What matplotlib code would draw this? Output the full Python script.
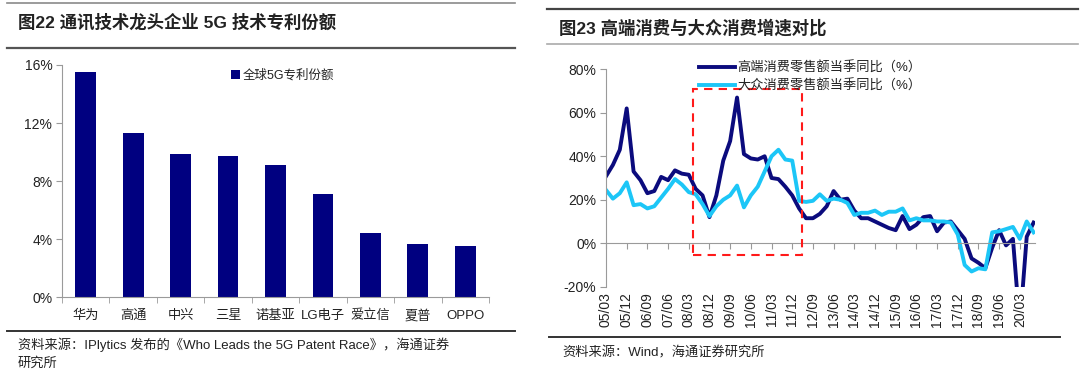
import matplotlib.pyplot as plt
from matplotlib.patches import Rectangle
from matplotlib.lines import Line2D
import numpy as np

plt.rcParams["font.family"] = ["Liberation Sans", "Noto Sans CJK SC", "DejaVu Sans"]
plt.rcParams["text.color"] = "#222222"
plt.rcParams["xtick.color"] = "#222222"
plt.rcParams["ytick.color"] = "#222222"

# Left chart data: global 5G patent share (%)
companies = ["华为", "高通", "中兴", "三星", "诺基亚", "LG电子", "爱立信", "夏普", "OPPO"]
patent_share = [15.5, 11.3, 9.9, 9.7, 9.1, 7.1, 4.4, 3.7, 3.5]

# Right chart data: quarterly yoy growth (%), 05/03 .. 20/09
quarters = [f"{y:02d}/{m:02d}" for y in range(5, 21) for m in (3, 6, 9, 12)][:63]
high_end = [30.8, 36, 43, 62, 33, 29, 23, 24, 30.5, 29, 33.5, 32, 31.5, 25, 22, 12,
            22, 38, 47, 67, 41, 39, 38.5, 40, 30, 29.5, 26, 22, 16, 11.5, 11.5, 13.5,
            17, 24, 20, 20.5, 15, 11.5, 11.5, 10, 8.5, 7, 6, 12.5, 6.5, 8.5, 12, 12.5,
            5.5, 9.5, 10, 6, 2, -7, -9, -11.5, -2, 6, -1, 2, -38, 3, 9.5]
mass = [24.5, 20.5, 23, 28, 17.5, 18, 16, 17, 21, 25, 29.5, 27, 23.5, 22.5, 18, 12.5,
        17, 20, 22, 26.5, 16.5, 22, 26, 33, 40, 43, 38.5, 38, 19.5, 19, 19.5, 22.5,
        19.5, 20.5, 20, 18.5, 13, 14, 14, 15, 13, 14.5, 14.5, 16, 10.5, 11.5, 10.5, 10.5,
        10, 10, 9.5, 4, -10, -13, -11.5, -12, 5, 5.5, 6.5, 7.5, 2, 10, 5]

navy = "#0b0b7d"
cyan = "#1cc6f7"
gray = "#9a9a9a"

fig = plt.figure(figsize=(10.8, 3.75), dpi=100)

# Title rules and titles
def hline(x0, x1, y, color, lw):
    fig.add_artist(Line2D([x0 / 1080, x1 / 1080], [1 - y / 375] * 2, color=color, lw=lw))

hline(7, 515, 3, "#8a8a8a", 1.2)
hline(7, 515, 48, "#555555", 1.6)
hline(547, 1078, 9, "#444444", 1.6)
hline(547, 1078, 44, "#aaaaaa", 1.2)
hline(7, 515, 331, "#333333", 1.4)
hline(549, 1060, 337, "#333333", 1.4)

fig.text(18 / 1080, 1 - 22 / 375, "图22 通讯技术龙头企业 5G 技术专利份额", fontsize=12.5,
         fontweight="bold", va="center", ha="left")
fig.text(559 / 1080, 1 - 28 / 375, "图23 高端消费与大众消费增速对比", fontsize=12.5,
         fontweight="bold", va="center", ha="left")
fig.text(18 / 1080, 1 - 345 / 375,
         "资料来源：IPlytics 发布的《Who Leads the 5G Patent Race》，海通证券",
         fontsize=9.5, va="center", ha="left")
fig.text(18 / 1080, 1 - 363 / 375, "研究所", fontsize=9.5, va="center", ha="left")
fig.text(562 / 1080, 1 - 353 / 375, "资料来源：Wind，海通证券研究所", fontsize=9.5,
         va="center", ha="left")

# ---- Left: bar chart ----
ax1 = fig.add_axes([62 / 1080, 1 - 297.3 / 375, (489 - 62) / 1080, (297.3 - 65) / 375])
xpos = np.arange(len(companies)) + 0.5
ax1.bar(xpos, patent_share, width=0.44, color="#000080", label="全球5G专利份额")
ax1.set_xlim(0, len(companies))
ax1.set_ylim(0, 16)
ax1.set_yticks([0, 4, 8, 12, 16], ["0%", "4%", "8%", "12%", "16%"])
ax1.set_xticks(xpos, companies)
ax1.set_xticks(np.arange(len(companies) + 1), minor=True)
ax1.tick_params(axis="x", which="major", length=0, pad=9, labelsize=9.5)
ax1.tick_params(axis="x", which="minor", length=4, color=gray, direction="out")
ax1.tick_params(axis="y", length=4, color=gray, labelsize=10, pad=3)
for s in ["top", "right"]:
    ax1.spines[s].set_visible(False)
for s in ["left", "bottom"]:
    ax1.spines[s].set_color(gray)
ax1.legend(loc="upper left", bbox_to_anchor=(0.37, 1.03), frameon=False, fontsize=9,
           handlelength=0.7, handleheight=0.7, handletextpad=0.2)

# ---- Right: line chart ----
ax2 = fig.add_axes([606 / 1080, 1 - 286.7 / 375, (1035 - 606) / 1080, (286.7 - 69.3) / 375])
xi = np.arange(len(quarters))
ax2.plot(xi, high_end, color=navy, lw=2.8, solid_joinstyle="round",
         label="高端消费零售额当季同比（%）")
ax2.plot(xi, mass, color=cyan, lw=2.8, solid_joinstyle="round",
         label="大众消费零售额当季同比（%）")
ax2.set_xlim(0, 62.2)
ax2.set_ylim(-20, 80)
ax2.set_yticks([-20, 0, 20, 40, 60, 80], ["-20%", "0%", "20%", "40%", "60%", "80%"])
ax2.tick_params(axis="y", length=4, color=gray, labelsize=10, pad=3)
for s in ["top", "right"]:
    ax2.spines[s].set_visible(False)
ax2.spines["left"].set_color(gray)
ax2.spines["bottom"].set_position(("data", 0))
ax2.spines["bottom"].set_color(gray)
ax2.set_xticks(xi[::3])
ax2.tick_params(axis="x", length=4, color=gray, direction="out", labelbottom=False)

sec = ax2.secondary_xaxis("bottom")
sec.set_xticks(xi[::3], [quarters[i] for i in xi[::3]], rotation=90)
sec.tick_params(axis="x", length=0, labelsize=10, pad=4)
sec.spines["bottom"].set_visible(False)

# highlighted period
rect = Rectangle((12.65, -5.6), 28.45 - 12.65, 70.9 + 5.6, fill=False, edgecolor="#ff1a1a",
                 lw=1.5, linestyle=(0, (4, 3)), clip_on=False, zorder=5)
ax2.add_patch(rect)

ax2.legend(loc="upper left", bbox_to_anchor=(0.19, 1.09), frameon=False, fontsize=9.5,
           handlelength=2.7, handletextpad=0.2, labelspacing=0.35)

fig.savefig("out.png", dpi=100)
